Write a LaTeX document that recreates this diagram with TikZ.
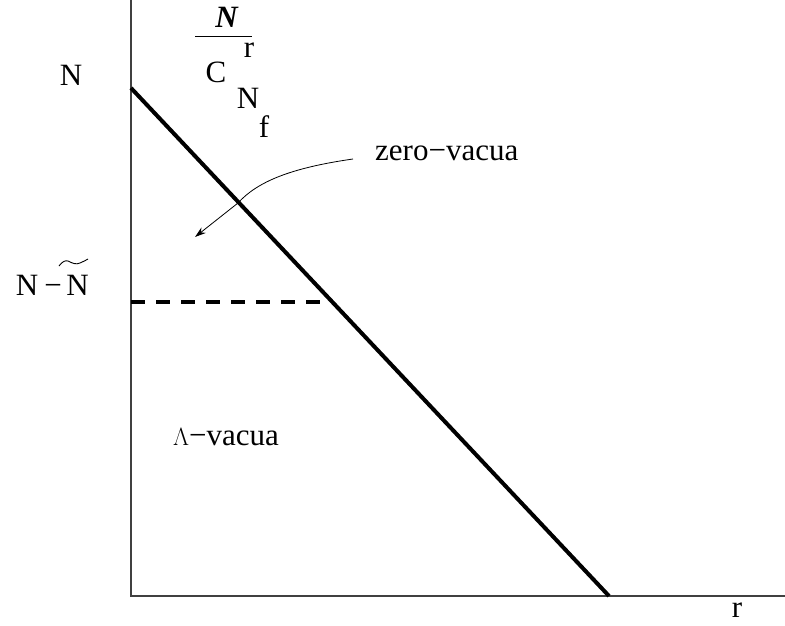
\documentclass[tikz,border=0pt]{standalone}
\usepackage{fontspec}
\setmainfont{Liberation Serif}
\usetikzlibrary{arrows.meta}
\newcommand{\mns}{\symbol{"2212}}
\begin{document}
\begin{tikzpicture}[x=1pt,y=-1pt,
  lbl/.style={inner sep=0pt,anchor=base,font=\fontsize{31}{37}\selectfont},
  axis/.style={line width=1.3pt,draw=black!75},
  bold/.style={line width=4pt,line cap=butt},
  dashline/.style={line width=4pt,dash pattern=on 14pt off 11pt}]
\useasboundingbox (0,0) rectangle (785,626);
\coordinate (o) at (131,596);
\coordinate (ytop) at (131,0);
\coordinate (xend) at (785,596);
\draw[axis] (ytop) -- (o) -- (xend);
\coordinate (a) at (131,88);
\coordinate (b) at (609,596);
\draw[bold] (a) -- (b);
\coordinate (d0) at (131,302);
\coordinate (d1) at (324,302);
\draw[dashline] (d0) -- (d1);
\node[lbl] (nN) at (71,85) {N};
\node[lbl] (nA) at (27,295) {N};
\node[lbl] (nM) at (53,295) {\mns};
\node[lbl] (nB) at (77.5,295) {N};
\coordinate (t0) at (59,266);
\coordinate (t1) at (88,259);
\draw[line width=0.9pt] (t0) .. controls (62,262) and (65,260) .. (68,261) .. controls (72,263) and (76,265) .. (80,263) .. controls (83,262) and (86,260) .. (t1);
\coordinate (f0) at (195,37);
\coordinate (f1) at (252,37);
\draw[line width=1pt] (f0) -- (f1);
\node[lbl] (bN) at (227,28) {\textbf{\textit{N}}};
\node[lbl] (r1) at (249,58) {r};
\node[lbl] (C) at (216,82) {C};
\node[lbl] (N2) at (248,108) {N};
\node[lbl] (f) at (264,137) {f};
\node[lbl,anchor=base west] (zv) at (375,160) {zero\mns vacua};
\coordinate (arrS) at (353,159);
\coordinate (arrE) at (195,237);
\draw[line width=0.8pt,-{Stealth[length=11pt,width=7pt]}] (arrS) .. controls (290,168) and (257,182) .. (238,203) -- (arrE);
\node[lbl,anchor=base west] (lv) at (173,445) {$\Lambda$\mns vacua};
\node[lbl] (r2) at (737,617) {r};
\end{tikzpicture}
\end{document}
